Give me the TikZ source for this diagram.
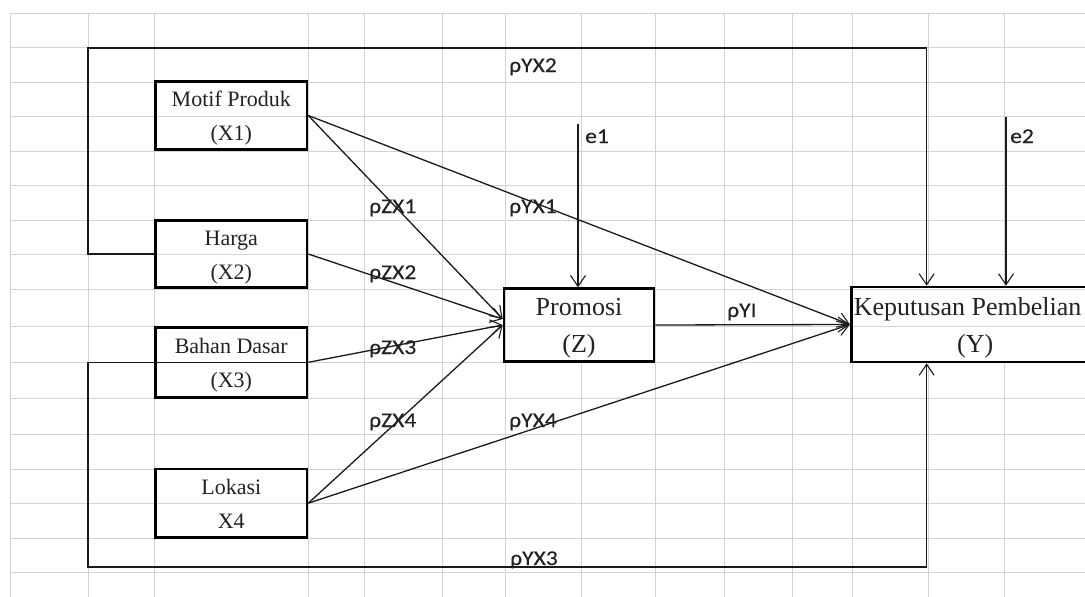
\documentclass[tikz,border=0pt]{standalone}
\usepackage{fontspec}
\setmainfont{Liberation Serif}
\newfontfamily\lblfont{Carlito}[FakeStretch=1.12,FakeBold=0.25]
\usetikzlibrary{arrows.meta,calc}
\definecolor{gridc}{HTML}{D3D3D3}
\definecolor{linec}{HTML}{1A1A1A}
\definecolor{textc}{HTML}{222222}
\newcommand\xtxt[2]{\rule{0pt}{21pt}#1\\#2\rule[-5pt]{0pt}{0pt}}
\newcommand\ztxt[2]{\rule{0pt}{24pt}#1\\#2\rule[-6pt]{0pt}{0pt}}
\tikzset{
  gridln/.style={draw=gridc, line width=1pt},
  xbox/.style={draw=black, line width=2.7pt, inner sep=0pt, align=center, text=textc,
    font=\fontsize{22}{34}\selectfont},
  zbox/.style={draw=black, line width=2.7pt, inner sep=0pt, align=center, text=textc,
    font=\fontsize{26}{37}\selectfont},
  conn/.style={draw=linec, line width=1.3pt},
  arr/.style={-{Straight Barb[length=11pt,width=15pt,line width=1.1pt]}},
  lbl/.style={font=\lblfont\fontsize{21}{21}\selectfont, inner sep=0pt, text=textc, anchor=base west}
}
\begin{document}
\begin{tikzpicture}[x=1pt,y=-1pt]
\useasboundingbox (0,0) rectangle (1085,597);
\fill[white] (0,0) rectangle (1085,597);
% grid
\foreach \gy in {13,47,82,116,151,185,220,254,289,326,362,398,434,469,503,538,572}
  \draw[gridln] (10,\gy) -- (1085,\gy);
\foreach \gx in {10,88,154,308,364,442,505,655,724,792,852}
  \draw[gridln] (\gx,13) -- (\gx,597);
\foreach \gx in {581,928,1004}{
  \draw[gridln] (\gx,13) -- (\gx,287);
  \draw[gridln] (\gx,363) -- (\gx,597);}
% boxes
\node[xbox, minimum width=151.3pt, minimum height=68.4pt] (motif) at (231.3,115.5) {\xtxt{Motif Produk}{(X1)}};
\node[xbox, minimum width=151.3pt, minimum height=66.6pt] (harga) at (231.3,254) {\xtxt{Harga}{(X2)}};
\node[xbox, minimum width=151.3pt, minimum height=70pt] (bahan) at (231.3,362.3) {\xtxt{Bahan Dasar}{(X3)}};
\node[xbox, minimum width=151.3pt, minimum height=68.3pt] (lokasi) at (231.3,503.2) {\xtxt{Lokasi}{X4}};
\node[zbox, minimum width=150pt, minimum height=72.6pt] (Z) at (579,325) {\ztxt{Promosi}{(Z)}};
\node[zbox, minimum width=247.7pt, minimum height=75pt] (Y) at (975.15,324.5) {\ztxt{Keputusan Pembelian\hspace*{15pt}}{(Y)}};
% helper coordinates
\coordinate (zin1) at ($(Z.west)+(0,-6)$);
\coordinate (zin2) at ($(Z.west)+(0,0)$);
\coordinate (lft1) at (88,48);
\coordinate (lft2) at (88,567);
\coordinate (e1s) at (578,124);
\coordinate (e2s) at (1006,117);
% connectors
\draw[conn, arr] (motif.east) -- (zin1);
\draw[conn, arr] (harga.east) -- (zin1);
\draw[conn, arr] (bahan.east) -- (zin2);
\draw[conn, arr] (lokasi.east) -- (zin2);
\draw[conn, arr] (motif.east) -- (Y.west);
\draw[conn, arr] (lokasi.east) -- (Y.west);
\draw[conn, arr] (Z.east) -- (Y.west);
\draw[conn, arr] (harga.west) -| (lft1) -| ($(Y.north west)+(76.7,0)$);
\draw[conn, arr] (bahan.east) -- (bahan.west) -| (lft2) -| ($(Y.south west)+(76.7,0)$);
\draw[conn, arr] (e1s) -- (e1s |- Z.north);
\draw[conn, arr] (e2s) -- (e2s |- Y.north);
% labels
\node[lbl] (lyx2) at (509,72) {ρYX2};
\node[lbl] (le1) at (585,143) {e1};
\node[lbl] (le2) at (1010,143) {e2};
\node[lbl] (lzx1) at (369,213) {ρZX1};
\node[lbl] (lyx1) at (509,213) {ρYX1};
\node[lbl] (lzx2) at (369,279) {ρZX2};
\node[lbl] (lyi) at (727,317) {ρYI};
\node[lbl] (lzx3) at (369,354) {ρZX3};
\node[lbl] (lzx4) at (369,427) {ρZX4};
\node[lbl] (lyx4) at (509,427) {ρYX4};
\node[lbl] (lyx3) at (510,565) {ρYX3};
\end{tikzpicture}
\end{document}
